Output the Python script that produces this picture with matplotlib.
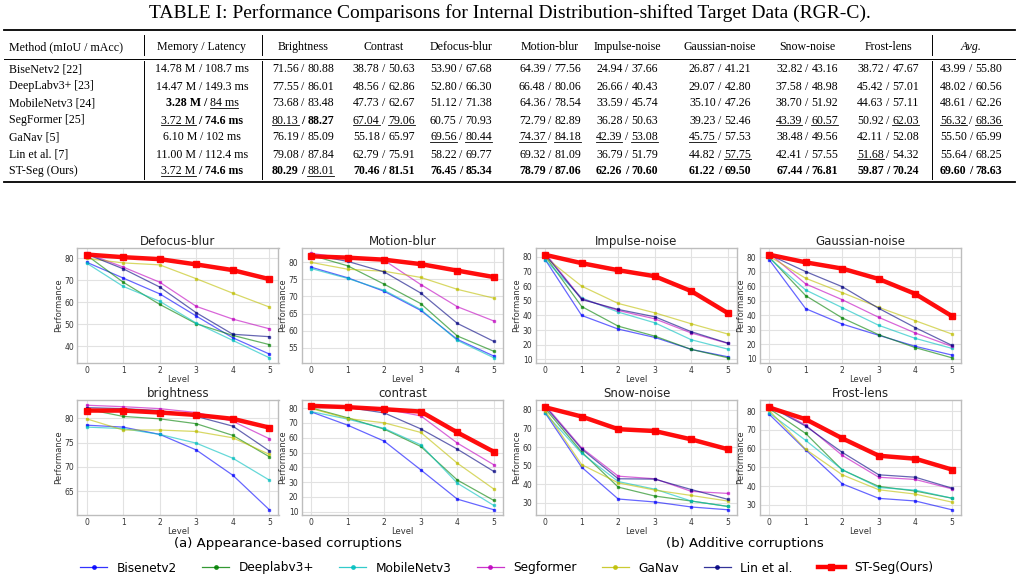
import numpy as np
import matplotlib.pyplot as plt
from matplotlib.lines import Line2D

W, H = 1020, 581

# ---------------- table data ----------------
TITLE = "TABLE I: Performance Comparisons for Internal Distribution-shifted Target Data (RGR-C)."
methods = ["BiseNetv2 [22]", "DeepLabv3+ [23]", "MobileNetv3 [24]", "SegFormer [25]",
           "GaNav [5]", "Lin et al. [7]", "ST-Seg (Ours)"]
memory = [14.78, 14.47, 3.28, 3.72, 6.10, 11.00, 3.72]
latency = [108.7, 149.3, 84, 74.6, 102, 112.4, 74.6]

col_names = ["Brightness", "Contrast", "Defocus-blur", "Motion-blur", "Impulse-noise",
             "Gaussian-noise", "Snow-noise", "Frost-lens", "Avg."]
brightness_t = ([71.56, 77.55, 73.68, 80.13, 76.19, 79.08, 80.29],
                [80.88, 86.01, 83.48, 88.27, 85.09, 87.84, 88.01])
contrast_t = ([38.78, 48.56, 47.73, 67.04, 55.18, 62.79, 70.46],
              [50.63, 62.86, 62.67, 79.06, 65.97, 75.91, 81.51])
defocus_t = ([53.90, 52.80, 51.12, 60.75, 69.56, 58.22, 76.45],
             [67.68, 66.30, 71.38, 70.93, 80.44, 69.77, 85.34])
motion_t = ([64.39, 66.48, 64.36, 72.79, 74.37, 69.32, 78.79],
            [77.56, 80.06, 78.54, 82.89, 84.18, 81.09, 87.06])
impulse_t = ([24.94, 26.66, 33.59, 36.28, 42.39, 36.79, 62.26],
             [37.66, 40.43, 45.74, 50.63, 53.08, 51.79, 70.60])
gaussian_t = ([26.87, 29.07, 35.10, 39.23, 45.75, 44.82, 61.22],
              [41.21, 42.80, 47.26, 52.46, 57.53, 57.75, 69.50])
snow_t = ([32.82, 37.58, 38.70, 43.39, 38.48, 42.41, 67.44],
          [43.16, 48.98, 51.92, 60.57, 49.56, 57.55, 76.81])
frost_t = ([38.72, 45.42, 44.63, 50.92, 42.11, 51.68, 59.87],
           [47.67, 57.01, 57.11, 62.03, 52.08, 54.32, 70.24])
avg_t = ([43.99, 48.02, 48.61, 56.32, 55.50, 55.64, 69.60],
         [55.80, 60.56, 62.26, 68.36, 65.99, 68.25, 78.63])
table_cols = [brightness_t, contrast_t, defocus_t, motion_t, impulse_t,
              gaussian_t, snow_t, frost_t, avg_t]

# ---------------- chart data ----------------
legend_names = ["Bisenetv2", "Deeplabv3+", "MobileNetv3", "Segformer", "GaNav",
                "Lin et al.", "ST-Seg(Ours)"]
line_colors = ["b", "g", "c", "m", "y", "navy", "red"]
levels = [0, 1, 2, 3, 4, 5]

defocus_blur = [
    [78.3, 71.1, 63.9, 53.8, 43.9, 36.5],
    [81.5, 69.2, 59.1, 50.3, 45.0, 40.8],
    [77.9, 67.3, 60.5, 50.6, 42.7, 34.8],
    [82.4, 76.1, 69.2, 58.2, 52.4, 48.0],
    [80.0, 78.0, 77.1, 70.8, 64.2, 57.9],
    [82.0, 75.3, 67.0, 55.3, 45.5, 44.4],
    [81.8, 80.6, 79.7, 77.3, 74.7, 70.6],
]
motion_blur = [
    [78.6, 75.5, 71.5, 65.9, 57.4, 52.5],
    [82.1, 79.0, 73.6, 67.9, 58.4, 53.9],
    [78.2, 75.3, 71.8, 66.2, 57.1, 52.0],
    [82.7, 81.1, 80.6, 73.5, 67.0, 62.8],
    [80.0, 78.0, 77.4, 75.6, 72.1, 69.5],
    [82.3, 80.3, 77.2, 71.0, 62.1, 56.8],
    [81.8, 81.4, 80.8, 79.5, 77.6, 75.7],
]
impulse_noise = [
    [78.2, 40.0, 30.7, 25.0, 16.8, 11.8],
    [80.5, 46.1, 32.7, 25.9, 16.8, 11.1],
    [78.0, 52.0, 42.3, 35.0, 23.4, 17.0],
    [82.5, 51.4, 43.4, 37.7, 28.0, 20.9],
    [79.8, 60.0, 48.2, 41.8, 34.3, 27.3],
    [81.6, 50.9, 44.1, 39.1, 28.9, 21.1],
    [81.4, 75.7, 70.9, 66.8, 56.6, 41.6],
]
gaussian_noise = [
    [78.4, 44.5, 33.9, 26.1, 18.5, 12.5],
    [80.2, 53.5, 38.1, 26.5, 17.6, 10.6],
    [79.5, 57.4, 45.2, 33.0, 24.0, 17.1],
    [82.8, 61.6, 50.7, 38.5, 27.7, 18.5],
    [80.7, 65.5, 55.6, 45.4, 36.2, 27.0],
    [81.8, 70.1, 59.7, 44.7, 31.4, 19.2],
    [81.8, 76.5, 72.2, 65.0, 54.7, 39.4],
]
brightness = [
    [78.6, 78.2, 76.7, 73.5, 68.3, 61.2],
    [81.9, 80.4, 79.9, 78.9, 76.5, 72.1],
    [78.2, 77.9, 76.7, 74.9, 71.8, 67.3],
    [82.7, 82.4, 82.0, 81.2, 79.4, 75.8],
    [79.9, 77.6, 77.6, 77.3, 76.0, 72.6],
    [82.2, 82.0, 81.6, 80.4, 78.4, 73.3],
    [81.6, 81.6, 81.2, 80.7, 79.9, 78.1],
]
contrast = [
    [77.5, 68.5, 57.7, 38.3, 18.5, 11.3],
    [80.2, 73.5, 65.8, 54.1, 31.4, 17.6],
    [77.7, 72.6, 66.3, 55.2, 29.3, 14.2],
    [82.0, 80.9, 79.5, 74.8, 56.4, 41.7],
    [79.8, 73.0, 70.1, 63.6, 42.8, 25.3],
    [81.1, 80.5, 76.8, 66.0, 52.3, 37.2],
    [81.6, 80.7, 79.3, 77.7, 63.6, 50.5],
]
snow_noise = [
    [78.4, 49.1, 32.0, 30.4, 27.7, 26.2],
    [80.7, 57.3, 38.4, 33.6, 30.9, 28.0],
    [78.2, 56.6, 41.4, 37.3, 30.9, 28.0],
    [82.5, 59.5, 44.3, 42.9, 36.1, 35.0],
    [79.6, 50.5, 40.7, 36.8, 33.9, 30.9],
    [81.8, 58.9, 42.9, 42.7, 37.1, 31.8],
    [81.4, 76.4, 69.6, 68.6, 64.1, 58.8],
]
frost_lens = [
    [78.4, 59.3, 41.2, 33.4, 32.0, 27.3],
    [81.4, 68.1, 48.6, 39.8, 37.3, 33.5],
    [79.1, 64.4, 48.8, 39.2, 37.8, 33.5],
    [83.2, 72.6, 56.4, 44.7, 43.5, 38.5],
    [80.5, 59.6, 46.0, 38.0, 35.7, 31.4],
    [82.7, 72.0, 58.0, 46.0, 44.7, 38.9],
    [82.0, 75.7, 65.5, 56.2, 54.6, 48.8],
]

charts = [
    ("Defocus-blur", defocus_blur, [40, 50, 60, 70, 80]),
    ("Motion-blur", motion_blur, [55, 60, 65, 70, 75, 80]),
    ("Impulse-noise", impulse_noise, [10, 20, 30, 40, 50, 60, 70, 80]),
    ("Gaussian-noise", gaussian_noise, [10, 20, 30, 40, 50, 60, 70, 80]),
    ("brightness", brightness, [65, 70, 75, 80]),
    ("contrast", contrast, [10, 20, 30, 40, 50, 60, 70, 80]),
    ("Snow-noise", snow_noise, [30, 40, 50, 60, 70, 80]),
    ("Frost-lens", frost_lens, [30, 40, 50, 60, 70, 80]),
]

fig = plt.figure(figsize=(W / 100, H / 100), dpi=100)
renderer = fig.canvas.get_renderer()


def fx(x):
    return x / W


def fy(y):
    return 1 - y / H


def hline(x0, x1, y, lw):
    fig.add_artist(Line2D([fx(x0), fx(x1)], [fy(y), fy(y)], color="black", lw=lw))


def vline(x, y0, y1, lw=0.7):
    fig.add_artist(Line2D([fx(x), fx(x)], [fy(y0), fy(y1)], color="black", lw=lw))


SERIF = "Liberation Serif"
TS = 8.6


def text_width(t):
    return t.get_window_extent(renderer).width


def draw_cell(cx, cy, parts):
    # parts: list of (string, bold, underline); centred as a whole on cx
    objs = []
    for s, bold, und in parts:
        t = fig.text(0, fy(cy), s, fontsize=TS, family=SERIF,
                     fontweight="bold" if bold else "normal", ha="left", va="baseline")
        objs.append((t, text_width(t), und))
    gap = 2.8
    total = sum(w for _, w, _ in objs) + gap * (len(objs) - 1)
    x = cx - total / 2
    for t, w, und in objs:
        t.set_x(fx(x))
        if und:
            hline(x, x + w, cy + 1.8, 0.6)
        x += w + gap


def ranks(vals, low_better=False):
    v = [-a if low_better else a for a in vals]
    best = max(v)
    second = max(a for a in v if a < best)
    return [a == best for a in v], [a == second for a in v]


# ---------------- table ----------------
fig.text(0.5, fy(13), TITLE, ha="center", va="center", fontsize=14, family=SERIF)
hline(4, 1015, 29.5, 1.3)
hline(4, 1015, 58.5, 0.7)
hline(4, 1015, 182, 1.3)
for vx in [144, 262, 932]:
    vline(vx, 35, 55)
    vline(vx, 61, 179)

header_y = 50
row_y0, row_dy = 72.5, 17
mem_x = 202
col_x = [303, 384, 461, 550, 627, 720, 807, 888, 971]

fig.text(fx(9), fy(header_y), "Method (mIoU / mAcc)", fontsize=TS, family=SERIF,
         ha="left", va="baseline")
fig.text(fx(mem_x), fy(header_y), "Memory / Latency", fontsize=TS, family=SERIF,
         ha="center", va="baseline")
for name, cx in zip(col_names, col_x):
    fig.text(fx(cx), fy(header_y), name, fontsize=TS, family=SERIF, ha="center",
             va="baseline", style="italic" if name == "Avg." else "normal")

mem_b, mem_u = ranks(memory, low_better=True)
lat_b, lat_u = ranks(latency, low_better=True)
for i, m in enumerate(methods):
    y = row_y0 + i * row_dy
    fig.text(fx(9), fy(y), m, fontsize=TS, family=SERIF, ha="left", va="baseline")
    draw_cell(mem_x, y, [(f"{memory[i]:.2f} M", mem_b[i], mem_u[i]),
                         ("/", mem_b[i] or lat_b[i], False),
                         (f"{latency[i]:g} ms", lat_b[i], lat_u[i])])

for (miou, macc), cx in zip(table_cols, col_x):
    ib, iu = ranks(miou)
    ab, au = ranks(macc)
    for i in range(len(methods)):
        y = row_y0 + i * row_dy
        draw_cell(cx, y, [(f"{miou[i]:.2f}", ib[i], iu[i]),
                          ("/", ib[i] or ab[i], False),
                          (f"{macc[i]:.2f}", ab[i], au[i])])

# ---------------- charts ----------------
lefts = [77.5, 302, 536, 760]
tops = [248, 400]
aw, ah = 201, 115

for k, (title, series, yt) in enumerate(charts):
    r, c = divmod(k, 4)
    ax = fig.add_axes([fx(lefts[c]), fy(tops[r] + ah), aw / W, ah / H])
    for j, vals in enumerate(series):
        if j == 6:
            ax.plot(levels, vals, color="red", lw=3.2, marker="s", ms=4.5, alpha=0.95,
                    zorder=5, label=legend_names[j])
        else:
            ax.plot(levels, vals, color=line_colors[j], lw=0.9, marker="s", ms=2,
                    alpha=0.6, label=legend_names[j])
    ax.set_xlim(-0.25, 5.25)
    ax.set_xticks(levels)
    ax.set_yticks(yt)
    ax.grid(True, color="#e2e2e2", lw=0.8)
    ax.set_axisbelow(True)
    for sp in ax.spines.values():
        sp.set_color("#bdbdbd")
        sp.set_linewidth(1.0)
    ax.tick_params(labelsize=5.5, colors="#333333", length=0, pad=2.5)
    ax.set_title(title, fontsize=8.5, pad=2.5, color="#222222")
    ax.set_xlabel("Level", fontsize=6, labelpad=0, color="#333333")
    ax.set_ylabel("Performance", fontsize=6, labelpad=1, color="#333333")

fig.text(fx(288), fy(543), "(a) Appearance-based corruptions", fontsize=9.5,
         ha="center", va="center")
fig.text(fx(745), fy(543), "(b) Additive corruptions", fontsize=9.5,
         ha="center", va="center")

handles = []
for j, name in enumerate(legend_names):
    if j == 6:
        handles.append(Line2D([], [], color="red", lw=3.2, marker="s", ms=4.5, label=name))
    else:
        handles.append(Line2D([], [], color=line_colors[j], lw=0.9, marker="o", ms=2.5,
                              alpha=0.8, label=name))
fig.legend(handles=handles, loc="center", bbox_to_anchor=(fx(507), fy(568)), ncol=7,
           frameon=False, fontsize=8.7, handlelength=2.2, handletextpad=0.8,
           columnspacing=2.1)

fig.savefig("out.png", dpi=100)
